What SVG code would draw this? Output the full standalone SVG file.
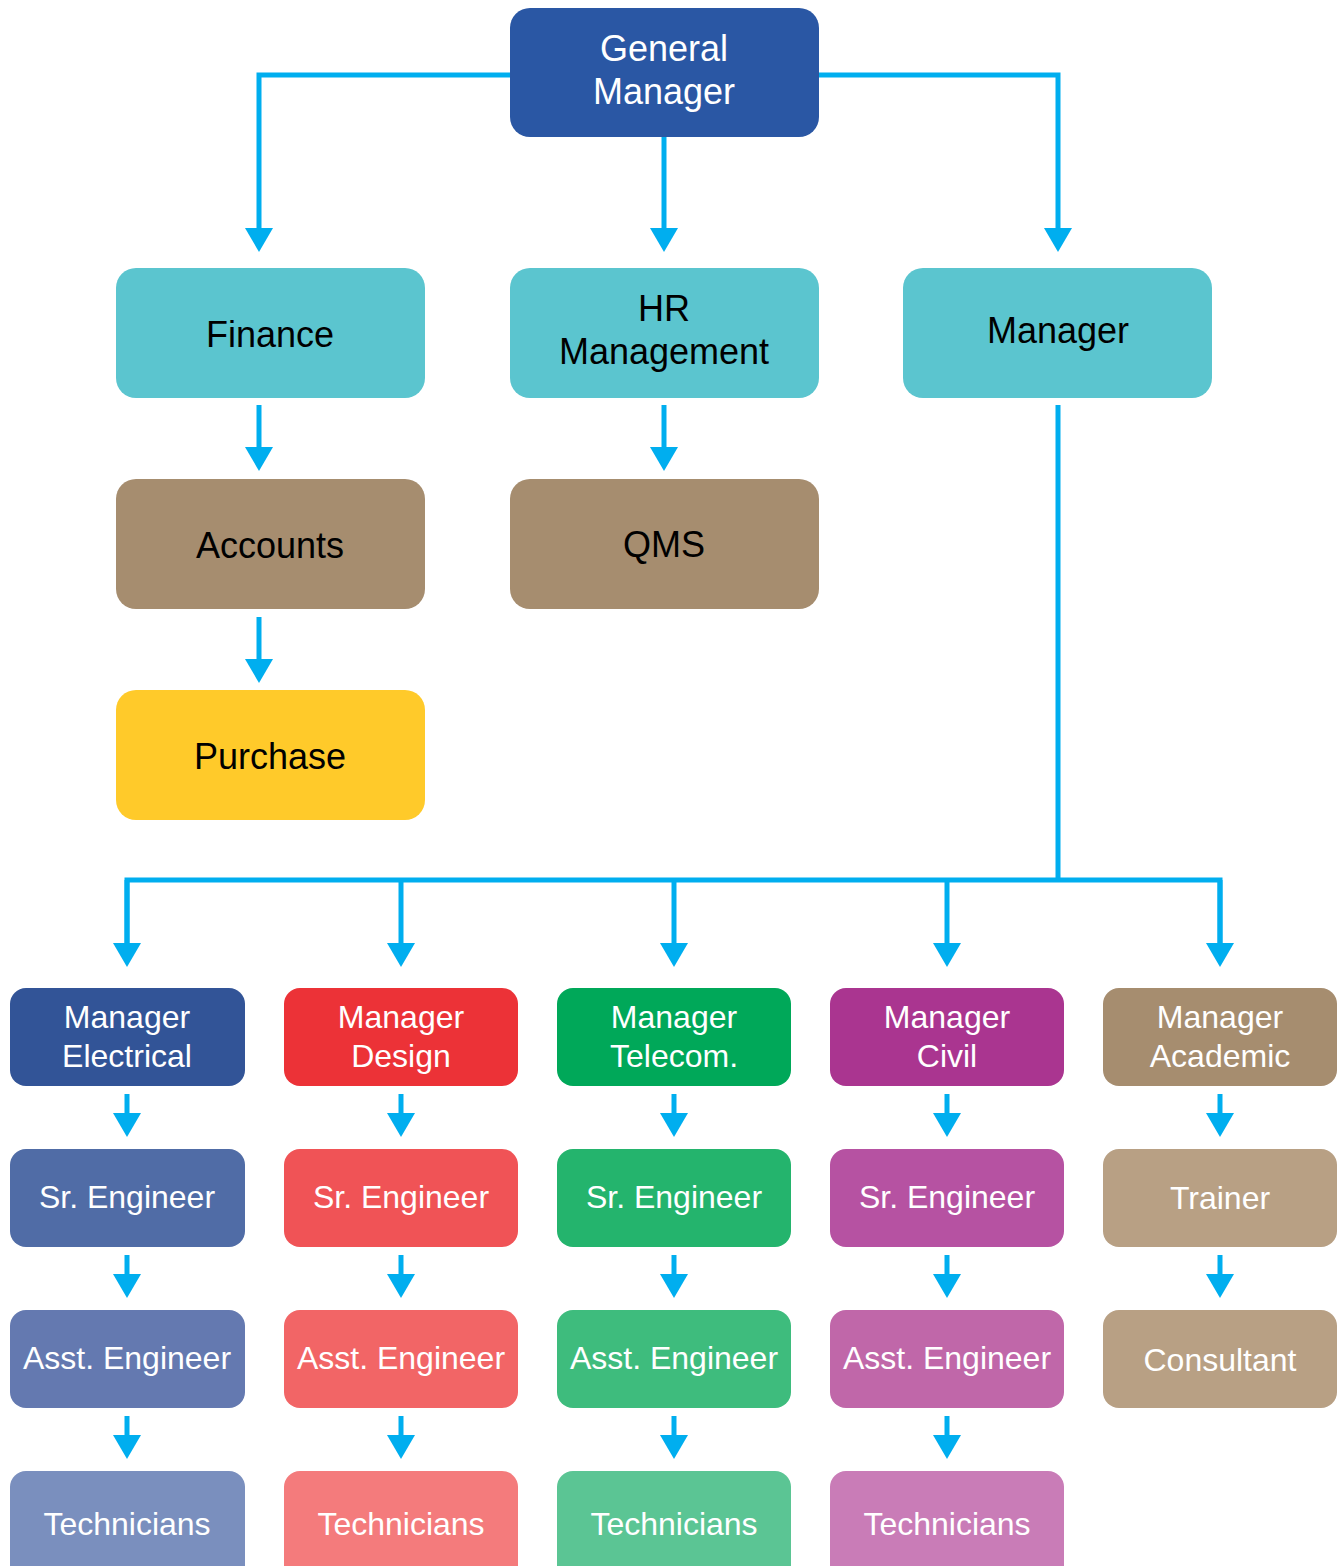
<svg xmlns="http://www.w3.org/2000/svg" width="1343" height="1566" viewBox="0 0 1343 1566">
<defs>
<marker id="ah" viewBox="0 0 24 28" refX="2" refY="14" markerWidth="24" markerHeight="28" markerUnits="userSpaceOnUse" orient="auto">
<path d="M0,0 L24,14 L0,28 Z" fill="#00AEEF"/>
</marker>
<style>
.c{fill:none;stroke:#00AEEF;stroke-width:5}
.a{marker-end:url(#ah)}
text{font-family:"Liberation Sans",Arial,Helvetica,sans-serif;text-anchor:middle}
.t{font-size:36px;fill:#000}
.tw{font-size:36px;fill:#fff}
.b{font-size:32px;fill:#fff}
</style>
</defs>
<rect width="1343" height="1566" fill="#fff"/>
<g id="connectors">
<path class="c a" d="M510,75 H259 V230"/>
<path class="c a" d="M664,137 V230"/>
<path class="c a" d="M819,75 H1058 V230"/>
<path class="c a" d="M259,405 V449"/>
<path class="c a" d="M664,405 V449"/>
<path class="c a" d="M259,617 V661"/>
<path class="c" d="M1058,405 V880"/>
<path class="c" d="M127,945 V880 H1220 V945"/>
<path class="c a" d="M127,880 V945"/>
<path class="c a" d="M401,880 V945"/>
<path class="c a" d="M674,880 V945"/>
<path class="c a" d="M947,880 V945"/>
<path class="c a" d="M1220,880 V945"/>
<path class="c a" d="M127,1094 V1115"/>
<path class="c a" d="M127,1255 V1276"/>
<path class="c a" d="M127,1416 V1437"/>
<path class="c a" d="M401,1094 V1115"/>
<path class="c a" d="M401,1255 V1276"/>
<path class="c a" d="M401,1416 V1437"/>
<path class="c a" d="M674,1094 V1115"/>
<path class="c a" d="M674,1255 V1276"/>
<path class="c a" d="M674,1416 V1437"/>
<path class="c a" d="M947,1094 V1115"/>
<path class="c a" d="M947,1255 V1276"/>
<path class="c a" d="M947,1416 V1437"/>
<path class="c a" d="M1220,1094 V1115"/>
<path class="c a" d="M1220,1255 V1276"/>
</g>
<g id="general-manager"><rect x="510" y="8" width="309" height="129" rx="20" fill="#2A57A4"/><text class="tw" x="664" y="61">General</text><text class="tw" x="664" y="104">Manager</text></g>
<g id="finance"><rect x="116" y="268" width="309" height="130" rx="20" fill="#5BC5CF"/><text class="t" x="270" y="347">Finance</text></g>
<g id="hr"><rect x="510" y="268" width="309" height="130" rx="20" fill="#5BC5CF"/><text class="t" x="664" y="321">HR</text><text class="t" x="664" y="364">Management</text></g>
<g id="manager"><rect x="903" y="268" width="309" height="130" rx="20" fill="#5BC5CF"/><text class="t" x="1058" y="343">Manager</text></g>
<g id="accounts"><rect x="116" y="479" width="309" height="130" rx="20" fill="#A68D6F"/><text class="t" x="270" y="558">Accounts</text></g>
<g id="qms"><rect x="510" y="479" width="309" height="130" rx="20" fill="#A68D6F"/><text class="t" x="664" y="557">QMS</text></g>
<g id="purchase"><rect x="116" y="690" width="309" height="130" rx="20" fill="#FFCA2A"/><text class="t" x="270" y="769">Purchase</text></g>

<g id="mgr-electrical"><rect x="10" y="988" width="235" height="98" rx="16" fill="#325497"/><text class="b" x="127" y="1028">Manager</text><text class="b" x="127" y="1067">Electrical</text></g>
<g id="sr-electrical"><rect x="10" y="1149" width="235" height="98" rx="16" fill="#506CA6"/><text class="b" x="127" y="1208">Sr. Engineer</text></g>
<g id="asst-electrical"><rect x="10" y="1310" width="235" height="98" rx="16" fill="#6479B0"/><text class="b" x="127" y="1369">Asst. Engineer</text></g>
<g id="tech-electrical"><rect x="10" y="1471" width="235" height="110" rx="16" fill="#7A8FBE"/><text class="b" x="127" y="1535">Technicians</text></g>

<g id="mgr-design"><rect x="284" y="988" width="234" height="98" rx="16" fill="#EC3237"/><text class="b" x="401" y="1028">Manager</text><text class="b" x="401" y="1067">Design</text></g>
<g id="sr-design"><rect x="284" y="1149" width="234" height="98" rx="16" fill="#F05356"/><text class="b" x="401" y="1208">Sr. Engineer</text></g>
<g id="asst-design"><rect x="284" y="1310" width="234" height="98" rx="16" fill="#F26566"/><text class="b" x="401" y="1369">Asst. Engineer</text></g>
<g id="tech-design"><rect x="284" y="1471" width="234" height="110" rx="16" fill="#F47B7C"/><text class="b" x="401" y="1535">Technicians</text></g>

<g id="mgr-telecom"><rect x="557" y="988" width="234" height="98" rx="16" fill="#00A859"/><text class="b" x="674" y="1028">Manager</text><text class="b" x="674" y="1067">Telecom.</text></g>
<g id="sr-telecom"><rect x="557" y="1149" width="234" height="98" rx="16" fill="#24B46D"/><text class="b" x="674" y="1208">Sr. Engineer</text></g>
<g id="asst-telecom"><rect x="557" y="1310" width="234" height="98" rx="16" fill="#3EBC7D"/><text class="b" x="674" y="1369">Asst. Engineer</text></g>
<g id="tech-telecom"><rect x="557" y="1471" width="234" height="110" rx="16" fill="#5BC594"/><text class="b" x="674" y="1535">Technicians</text></g>

<g id="mgr-civil"><rect x="830" y="988" width="234" height="98" rx="16" fill="#AA3590"/><text class="b" x="947" y="1028">Manager</text><text class="b" x="947" y="1067">Civil</text></g>
<g id="sr-civil"><rect x="830" y="1149" width="234" height="98" rx="16" fill="#B652A2"/><text class="b" x="947" y="1208">Sr. Engineer</text></g>
<g id="asst-civil"><rect x="830" y="1310" width="234" height="98" rx="16" fill="#C067A9"/><text class="b" x="947" y="1369">Asst. Engineer</text></g>
<g id="tech-civil"><rect x="830" y="1471" width="234" height="110" rx="16" fill="#C97CB7"/><text class="b" x="947" y="1535">Technicians</text></g>

<g id="mgr-academic"><rect x="1103" y="988" width="234" height="98" rx="16" fill="#A68D6F"/><text class="b" x="1220" y="1028">Manager</text><text class="b" x="1220" y="1067">Academic</text></g>
<g id="trainer"><rect x="1103" y="1149" width="234" height="98" rx="16" fill="#B8A084"/><text class="b" x="1220" y="1209">Trainer</text></g>
<g id="consultant"><rect x="1103" y="1310" width="234" height="98" rx="16" fill="#B8A084"/><text class="b" x="1220" y="1371">Consultant</text></g>
</svg>
